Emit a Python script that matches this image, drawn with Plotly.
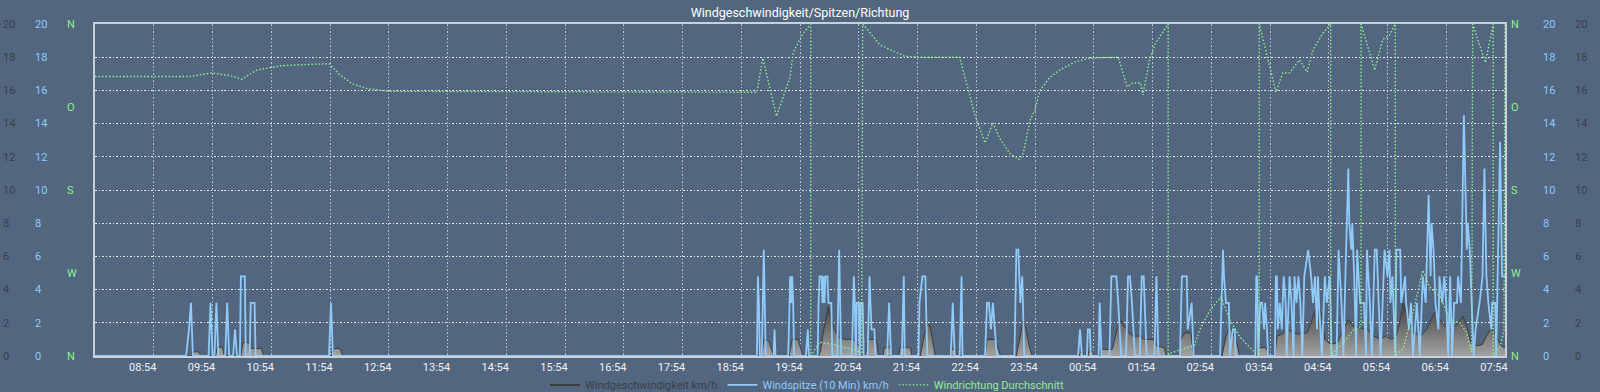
import plotly.graph_objects as go
from datetime import datetime, timedelta

# ---------------- data ----------------
# Wind speed (average) km/h
speed_times = ["07:54",
    "09:33", "09:35", "09:40", "09:42",
    "09:57", "09:59", "10:04", "10:06",
    "10:23", "10:25", "10:31", "10:34", "10:44", "10:46",
    "11:56", "11:58", "12:04", "12:07",
    "19:15", "19:17", "19:22", "19:25", "19:27",
    "19:43", "19:46", "19:52", "19:55", "19:57",
    "20:13", "20:15", "20:18", "20:23", "20:26", "20:29", "20:34", "20:40", "20:48", "20:54", "20:58",
    "21:01", "21:03", "21:12", "21:14",
    "21:19", "21:20", "21:26", "21:27",
    "21:35", "21:36", "21:47", "21:48",
    "21:57", "22:00", "22:04", "22:07", "22:10", "22:12",
    "22:28", "22:29", "22:33", "22:34",
    "23:03", "23:05", "23:13", "23:17", "23:19",
    "23:35", "23:38", "23:42", "23:45", "23:48", "23:51",
    "00:39", "00:40", "00:43", "00:44",
    "00:48", "00:49", "00:53", "00:54",
    "01:00", "01:02", "01:13", "01:16", "01:21", "01:25", "01:30", "01:34", "01:42", "01:45", "01:55", "01:58", "02:06", "02:08",
    "02:21", "02:23", "02:27", "02:33", "02:36",
    "03:05", "03:09", "03:13", "03:16", "03:20", "03:23",
    "03:40", "03:42", "03:50", "03:53",
    "03:59", "04:01", "04:06", "04:12", "04:18", "04:25", "04:32", "04:37", "04:43", "04:47", "04:50", "04:56",
    "05:03", "05:08", "05:14", "05:19", "05:26", "05:33", "05:40", "05:47", "05:52", "05:58",
    "06:03", "06:07", "06:10", "06:14", "06:20", "06:28", "06:34", "06:40", "06:43", "06:47", "06:53", "06:59",
    "07:05", "07:11", "07:15", "07:19", "07:25", "07:31", "07:35", "07:40", "07:45", "07:50", "07:54"]
speed_values = [0,
    0, 0.25, 0.25, 0,
    0, 0.5, 0.55, 0,
    0, 0.8, 0.8, 0.45, 0.45, 0,
    0, 0.45, 0.45, 0,
    0, 1.0, 0.9, 0.4, 0,
    0, 1.0, 1.0, 0.3, 0,
    0, 0.3, 1.5, 3.0, 2.2, 1.6, 1.1, 1.0, 1.0, 0.6, 0,
    0, 1.0, 1.0, 0,
    0, 0.5, 0.5, 0,
    0, 0.5, 0.5, 0,
    0, 1.0, 1.9, 1.8, 0.8, 0,
    0, 0.4, 0.4, 0,
    0, 1.0, 1.0, 0.3, 0,
    0, 1.0, 2.2, 1.6, 0.6, 0,
    0, 0.2, 0.2, 0,
    0, 0.25, 0.25, 0,
    0, 0.4, 0.4, 1.2, 2.2, 1.8, 1.4, 1.2, 1.2, 1.0, 1.0, 0.6, 0.5, 0,
    0, 1.0, 1.4, 1.4, 0,
    0, 1.2, 1.8, 1.4, 0.8, 0,
    0, 0.5, 0.5, 0,
    0, 1.2, 1.3, 1.6, 1.4, 1.3, 1.4, 2.2, 3.2, 2.4, 1.0, 0.7,
    0.8, 1.5, 2.2, 1.8, 1.7, 1.6, 1.2, 1.0, 1.2, 1.0,
    1.2, 2.2, 3.2, 2.5, 1.4, 1.2, 1.6, 2.4, 2.7, 2.2, 1.8, 1.6,
    1.9, 2.4, 1.8, 0.8, 0.6, 0.7, 1.2, 1.7, 1.2, 0.6, 0.5]

# Wind gust (10 min) km/h
gust_times = ["07:54",
    "09:27", "09:30", "09:32", "09:34",
    "09:50", "09:52", "09:54",
    "09:56", "09:58", "10:00",
    "10:07", "10:09", "10:11",
    "10:15", "10:17", "10:19",
    "10:22", "10:23", "10:27", "10:28",
    "10:32", "10:33", "10:37", "10:38",
    "11:53", "11:55", "11:57",
    "19:10", "19:11", "19:12", "19:13", "19:15", "19:17", "19:19",
    "19:27", "19:28", "19:29",
    "19:42", "19:44", "19:45", "19:46", "19:47", "19:48",
    "20:00", "20:02", "20:03",
    "20:12", "20:13", "20:14", "20:16", "20:17", "20:18", "20:19", "20:20", "20:22", "20:23", "20:26", "20:27",
    "20:32", "20:34", "20:36",
    "20:47", "20:49", "20:50", "20:51", "20:52", "20:54", "20:55", "20:56", "20:58", "20:59",
    "21:03", "21:05", "21:07", "21:10", "21:11",
    "21:23", "21:25", "21:27",
    "21:38", "21:40", "21:41",
    "21:55", "21:56", "21:59", "22:02", "22:04",
    "22:28", "22:30", "22:32",
    "22:37", "22:39", "22:40",
    "23:03", "23:05", "23:07", "23:09", "23:11", "23:15",
    "23:33", "23:35", "23:37", "23:39", "23:41", "23:43",
    "00:38", "00:40", "00:42",
    "00:47", "00:48", "00:50", "00:51",
    "00:59", "01:00", "01:02",
    "01:10", "01:12", "01:17", "01:19", "01:22",
    "01:27", "01:29", "01:31", "01:33", "01:36",
    "01:41", "01:43", "01:45", "01:46", "01:48",
    "01:56", "01:58", "02:00",
    "02:22", "02:24", "02:29", "02:30", "02:34", "02:36",
    "03:03", "03:06", "03:07", "03:09", "03:12", "03:13", "03:16", "03:18", "03:19",
    "03:39", "03:40", "03:41", "03:42", "03:44", "03:46", "03:48", "03:49", "03:51", "03:52",
    "03:59", "04:00", "04:01", "04:02", "04:04", "04:06", "04:08", "04:10", "04:11", "04:14",
    "04:16", "04:18", "04:19", "04:21", "04:23", "04:25", "04:27", "04:29", "04:33", "04:36",
    "04:38", "04:40", "04:42", "04:43", "04:44", "04:47", "04:50", "04:52", "04:55", "04:57",
    "05:02", "05:04", "05:07", "05:09", "05:11", "05:14", "05:15", "05:17", "05:18", "05:20",
    "05:22", "05:23", "05:26", "05:30", "05:32", "05:33", "05:36", "05:38", "05:41", "05:43",
    "05:45", "05:47", "05:51", "05:54", "05:56", "05:57", "05:59", "06:02", "06:03", "06:07",
    "06:08", "06:12", "06:13", "06:16", "06:18", "06:20", "06:24", "06:27", "06:30", "06:33",
    "06:36", "06:38", "06:39", "06:41", "06:43", "06:46", "06:47", "06:50", "06:52", "06:54",
    "06:56", "06:58", "07:00", "07:02", "07:05", "07:06", "07:09", "07:12", "07:15", "07:16",
    "07:18", "07:20", "07:22", "07:24", "07:28", "07:31", "07:33", "07:35", "07:37", "07:40",
    "07:41", "07:44", "07:45", "07:49", "07:51", "07:54"]
gust_values = [0,
    0, 1.6, 3.2, 0,
    0, 3.2, 0,
    0, 3.2, 0,
    0, 3.2, 0,
    0, 1.6, 0,
    0, 4.8, 4.8, 0,
    0, 3.2, 3.2, 0,
    0, 3.2, 0,
    0, 4.8, 3.2, 0, 0, 6.4, 0,
    0, 1.6, 0,
    0, 4.8, 3.2, 4.8, 3.2, 0,
    0, 1.6, 0,
    0, 3.2, 4.8, 4.8, 3.2, 4.8, 3.2, 4.8, 4.8, 3.2, 3.2, 0,
    0, 6.4, 0,
    0, 4.8, 3.2, 0, 3.2, 3.2, 0, 3.2, 3.2, 0,
    0, 4.8, 1.6, 1.6, 0,
    0, 3.2, 0,
    0, 4.8, 0,
    0, 3.2, 4.8, 4.8, 0,
    0, 3.2, 0,
    0, 4.8, 0,
    0, 3.2, 3.2, 1.6, 3.2, 0,
    0, 6.4, 6.4, 3.2, 4.8, 0,
    0, 1.6, 0,
    0, 1.6, 1.6, 0,
    0, 3.2, 0,
    0, 4.8, 4.8, 3.2, 0,
    0, 4.8, 4.8, 3.2, 0,
    0, 4.8, 4.8, 3.2, 0,
    0, 4.8, 0,
    0, 4.8, 4.8, 1.6, 3.2, 0,
    0, 6.4, 4.8, 3.2, 3.2, 0, 1.6, 1.6, 0,
    0, 4.8, 4.8, 0, 3.2, 3.2, 1.6, 3.2, 1.6, 0,
    0, 4.8, 4.8, 1.6, 3.2, 1.6, 4.8, 3.2, 0, 4.8,
    3.2, 0, 4.8, 3.2, 4.8, 3.2, 0, 4.8, 6.4, 4.8,
    3.2, 4.8, 1.6, 4.8, 3.2, 0, 4.8, 3.2, 4.8, 0,
    0, 6.4, 3.2, 0, 4.8, 11.3, 8.0, 6.4, 8.0, 4.8,
    0, 6.4, 3.2, 3.2, 0, 6.4, 3.2, 0, 6.4, 6.4,
    3.2, 0, 6.4, 4.8, 6.4, 3.2, 4.8, 0, 6.4, 6.4,
    3.2, 4.8, 3.2, 1.6, 3.2, 0, 3.2, 0, 4.8, 3.2,
    9.7, 4.8, 8.0, 6.4, 3.2, 1.6, 4.8, 3.2, 4.8, 3.2,
    0, 4.8, 0, 3.2, 3.2, 4.8, 3.2, 14.5, 6.4, 8.0,
    6.4, 3.2, 0, 1.6, 3.2, 4.8, 11.3, 4.8, 3.2, 1.6,
    3.2, 3.2, 0, 12.9, 4.8, 4.8]

# Wind direction (average), degrees
dir_times = ["07:54", "09:31", "09:53", "10:12", "10:24", "10:39", "10:55", "11:06", "11:53",
    "12:04", "12:17", "12:32", "12:54", "19:10", "19:16", "19:30", "19:44", "19:47", "19:56",
    "20:05", "20:05", "20:14", "20:30", "20:57", "20:58", "21:16", "21:33", "21:41", "21:57",
    "22:37", "22:53", "23:03", "23:11", "23:18", "23:28", "23:38", "23:42", "23:49", "23:54",
    "23:59", "00:09", "00:19", "00:35", "00:50", "01:19", "01:28", "01:34", "01:42", "01:44",
    "01:51", "01:57", "02:10", "02:10", "02:12", "02:32", "02:37", "02:42", "02:53", "03:04",
    "03:13", "03:23", "03:39", "03:43", "03:43", "03:54", "04:00", "04:07", "04:14", "04:24",
    "04:32", "04:38", "04:48", "04:56", "04:56", "04:58", "05:11", "05:19", "05:27", "05:27",
    "05:36", "05:41", "05:49", "05:56", "06:02", "06:02", "06:10", "06:20", "06:30", "06:37",
    "06:48", "06:58", "07:08", "07:15", "07:20", "07:21", "07:34", "07:42", "07:42", "07:49",
    "07:53", "07:54"]
dir_values = [57, 57, 53, 56, 60, 50, 47, 45, 43,
    55, 65, 70, 73, 74, 37, 100, 57, 31, 12,
    0, 360, 345, 348, 356, 0, 23, 31, 35, 36,
    36, 100, 129, 107, 124, 140, 147, 140, 104, 93,
    72, 58, 50, 41, 37, 36, 68, 64, 64, 77,
    39, 21, 0, 360, 357, 350, 348, 332, 310, 296,
    321, 339, 357, 360, 0, 47, 74, 53, 53, 39,
    52, 28, 10, 0, 360, 357, 343, 332, 328, 0,
    31, 50, 17, 12, 0, 360, 352, 313, 267, 285,
    296, 321, 324, 335, 356, 0, 42, 0, 360, 350,
    332, 0]

x_tick_labels = ["08:54", "09:54", "10:54", "11:54", "12:54", "13:54", "14:54", "15:54",
    "16:54", "17:54", "18:54", "19:54", "20:54", "21:54", "22:54", "23:54",
    "00:54", "01:54", "02:54", "03:54", "04:54", "05:54", "06:54", "07:54"]
speed_ticks = [0, 2, 4, 6, 8, 10, 12, 14, 16, 18, 20]
dir_tickvals = [0, 90, 180, 270, 360]
dir_ticktext = ["N", "O", "S", "W", "N"]
range_start, range_end = "07:54", "07:54"

# ---------------- helpers ----------------
BASE = datetime(2024, 5, 1)


def to_dt(times, start_day=0):
    out, day, prev = [], start_day, None
    for t in times:
        h, m = map(int, t.split(":"))
        mins = h * 60 + m
        if prev is not None and mins < prev - 60:
            day += 1
        prev = mins
        out.append(BASE + timedelta(days=day, minutes=mins))
    return out


x_start = to_dt([range_start])[0]
x_end = to_dt([range_end], start_day=1)[0]
tick_dt = to_dt(x_tick_labels)

BG = "#526680"
GRAY = "#3a3f4a"
BLUE = "#90caf9"
GREEN = "#90ee90"
FONT = "Roboto, Inter, sans-serif"
W, H = 1600, 392
X0, X1 = 95, 1505
DOT = "1.5px,2px"

fig = go.Figure()

# legend-only entry for the speed series (line swatch, like the original)
fig.add_trace(go.Scatter(
    x=[None], y=[None], mode="lines", yaxis="y",
    name=f"<span style='color:{GRAY}'>Windgeschwindigkeit km/h</span>",
    line=dict(color="#3c3c3c", width=2), hoverinfo="skip"))

fig.add_trace(go.Scatter(
    x=to_dt(speed_times), y=speed_values, mode="lines", yaxis="y", showlegend=False,
    line=dict(color="#3c3c3c", width=1),
    fill="tozeroy",
    fillgradient=dict(type="vertical", start=0, stop=3.6,
                      colorscale=[[0, "#a2a2a2"], [1, "#333333"]]),
    hoverinfo="skip"))

fig.add_trace(go.Scatter(
    x=to_dt(gust_times), y=gust_values, mode="lines", yaxis="y2",
    name=f"<span style='color:{BLUE}'>Windspitze (10 Min) km/h</span>",
    line=dict(color=BLUE, width=1.8), hoverinfo="skip"))

fig.add_trace(go.Scatter(
    x=to_dt(dir_times), y=dir_values, mode="lines", yaxis="y3",
    name=f"<span style='color:{GREEN}'>Windrichtung Durchschnitt</span>",
    line=dict(color=GREEN, width=1.4, dash=DOT), hoverinfo="skip"))

for ax in ["y4", "y5", "y6", "y7"]:
    fig.add_trace(go.Scatter(x=[], y=[], yaxis=ax, showlegend=False, hoverinfo="skip"))


def px(v):
    return v / W


common = dict(ticks="", zeroline=False, showline=False, fixedrange=True)
speed_ax = dict(range=[0, 20], tickvals=speed_ticks, **common)
dir_ax = dict(range=[360, 0], tickvals=dir_tickvals, ticktext=dir_ticktext, **common)

fig.update_layout(
    width=W, height=H,
    margin=dict(l=0, r=0, t=24, b=36, autoexpand=False),
    paper_bgcolor=BG, plot_bgcolor=BG,
    font=dict(family=FONT, size=11, color="#e8edf2"),
    title=dict(text="Windgeschwindigkeit/Spitzen/Richtung", x=0.5, xanchor="center",
               y=1 - 12.5 / H, yanchor="middle", yref="container",
               font=dict(size=12.5, color="#ffffff", family=FONT)),
    showlegend=True,
    legend=dict(orientation="h", x=0.5 + 7 / W, xanchor="center", y=-0.087, yanchor="middle",
                font=dict(size=11, family=FONT), bgcolor="rgba(0,0,0,0)", itemwidth=30),
    xaxis=dict(domain=[px(X0), px(X1)], type="date", range=[x_start, x_end],
               tickvals=tick_dt, ticktext=x_tick_labels, ticklabelshift=-11,
               showgrid=True, gridcolor="rgba(255,255,255,0.6)", griddash=DOT, gridwidth=1,
               showline=True, mirror=True, linecolor="#c9d0da", linewidth=1.5,
               ticks="", zeroline=False, tickfont=dict(color="#eef1f5", size=11)),
    yaxis=dict(anchor="free", position=px(2), side="right",
               showgrid=True, gridcolor="rgba(255,255,255,0.85)", griddash=DOT, gridwidth=1,
               tickfont=dict(color=GRAY), **speed_ax),
    yaxis2=dict(overlaying="y", anchor="free", position=px(34), side="right",
                showgrid=False, tickfont=dict(color=BLUE), **speed_ax),
    yaxis3=dict(overlaying="y", anchor="free", position=px(66), side="right",
                showgrid=False, tickfont=dict(color=GREEN), **dir_ax),
    yaxis4=dict(overlaying="y", anchor="free", position=px(1510), side="right",
                showgrid=False, tickfont=dict(color=GREEN), **dir_ax),
    yaxis5=dict(overlaying="y", anchor="free", position=px(1542), side="right",
                showgrid=False, tickfont=dict(color=BLUE), **speed_ax),
    yaxis6=dict(overlaying="y", anchor="free", position=px(1574), side="right",
                showgrid=False, tickfont=dict(color=GRAY), **speed_ax),
    yaxis7=dict(overlaying="y", anchor="x", range=[0, 20], showgrid=False,
                showticklabels=False, ticks="", zeroline=False,
                showline=True, mirror=True, linecolor="#c9d0da", linewidth=1.5),
)

fig.write_html("out.html")
